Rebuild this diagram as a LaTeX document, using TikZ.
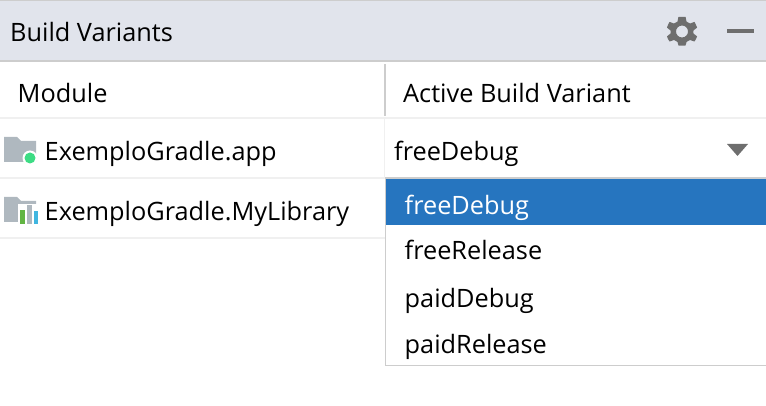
\documentclass[tikz,border=0pt]{standalone}
\usepackage{fontspec}
\setmainfont{Open Sans}
\definecolor{headerbg}{HTML}{E1E4EC}
\definecolor{rulegray}{HTML}{CDCDCD}
\definecolor{rowline}{HTML}{F0F0F0}
\definecolor{iconGray}{HTML}{AFB8BF}
\definecolor{darkicon}{HTML}{6E6E6E}
\definecolor{selblue}{HTML}{2675BF}
\definecolor{appgreen}{HTML}{3DDC84}
\definecolor{bargreen}{HTML}{62B543}
\definecolor{barblue}{HTML}{40B6E0}
\tikzset{
    label/.style={anchor=base west, inner sep=0pt, font=\fontsize{25.3}{28}\selectfont, text=black},
}
\begin{document}
\begin{tikzpicture}[x=1pt, y=-1pt]
        \useasboundingbox (0,0) rectangle (766,406);
        % ── cabecera ──────────────────────────
        \fill[headerbg] (0,0) rectangle (766,61);
        \fill[rulegray] (0,0) rectangle (766,1.5);
        \fill[rulegray] (0,60.5) rectangle (766,62);
        \node[label] (title) at (10,42) {Build Variants};
        % engranaje
        \fill[darkicon, even odd rule] plot[smooth cycle, tension=0.15] coordinates {
            (678.5,17) (685.5,17) (686.5,21.5) (690,23.5) (694.5,22) (697,27.5) (693.5,30.5)
            (693.5,33.5) (697,36.5) (694.5,41.5) (690,40) (686.5,42) (685.5,45.5) (678.5,45.5)
            (677.5,42) (674,40) (669.5,41.5) (667,36.5) (670.5,33.5) (670.5,30.5) (667,27.5)
            (669.5,22) (674,23.5) (677.5,21.5)} (682,31.5) circle (6);
        \fill[darkicon] (726.5,29) rectangle (753.5,33.5);
        % ── columnas ──────────────────────────
        \node[label] (module) at (17.5,103) {Module};
        \node[label] (variant) at (403,103) {Active Build Variant};
        \fill[rulegray] (383.5,64) rectangle (385.5,116);
        \fill[rowline] (0,117.5) rectangle (766,119);
        \fill[rowline] (0,177.5) rectangle (385,179);
        \fill[rowline] (0,237.5) rectangle (385,239);
        \fill[rowline] (383.5,119) rectangle (385,178);
        % ── módulo app ──────────────────────────
        \fill[iconGray] (4,137) -- (17,137) -- (21,141) -- (36,141) -- (36,162) -- (4,162) -- cycle;
        \fill[white] (30,158) circle (7.5);
        \fill[appgreen] (30,158) circle (5.5);
        \node[label] (app) at (44.5,161) {ExemploGradle.app};
        % ── módulo biblioteca ──────────────────────────
        \fill[iconGray] (4,197) -- (17,197) -- (21,201) -- (36,201) -- (36,222) -- (4,222) -- cycle;
        \fill[white] (18,204) rectangle (39,224);
        \fill[bargreen] (20,210) rectangle (24.5,224);
        \fill[iconGray] (27,205) rectangle (31.5,224);
        \fill[barblue] (34,211) rectangle (38,224);
        \node[label] (library) at (44.5,221) {ExemploGradle.MyLibrary};
        % ── variante activa ──────────────────────────
        \node[label] (active) at (394,161) {freeDebug};
        \fill[darkicon] (727,144) -- (748,144) -- (737.5,156) -- cycle;
        % ── lista desplegable ──────────────────────────
        \fill[white] (385,178) rectangle (766,366);
        \fill[rulegray] (384.5,177.5) rectangle (766,179.5);
        \fill[rulegray] (384.5,177.5) rectangle (386,366);
        \fill[rulegray] (384.5,364.5) rectangle (766,366);
        \fill[selblue] (386,179.5) rectangle (766,225);
        \node[label, text=white] (itemA) at (404.5,215) {freeDebug};
        \node[label] (itemB) at (404.5,260) {freeRelease};
        \node[label] (itemC) at (404.5,308) {paidDebug};
        \node[label] (itemD) at (404.5,353) {paidRelease};
    \end{tikzpicture}
\end{document}
